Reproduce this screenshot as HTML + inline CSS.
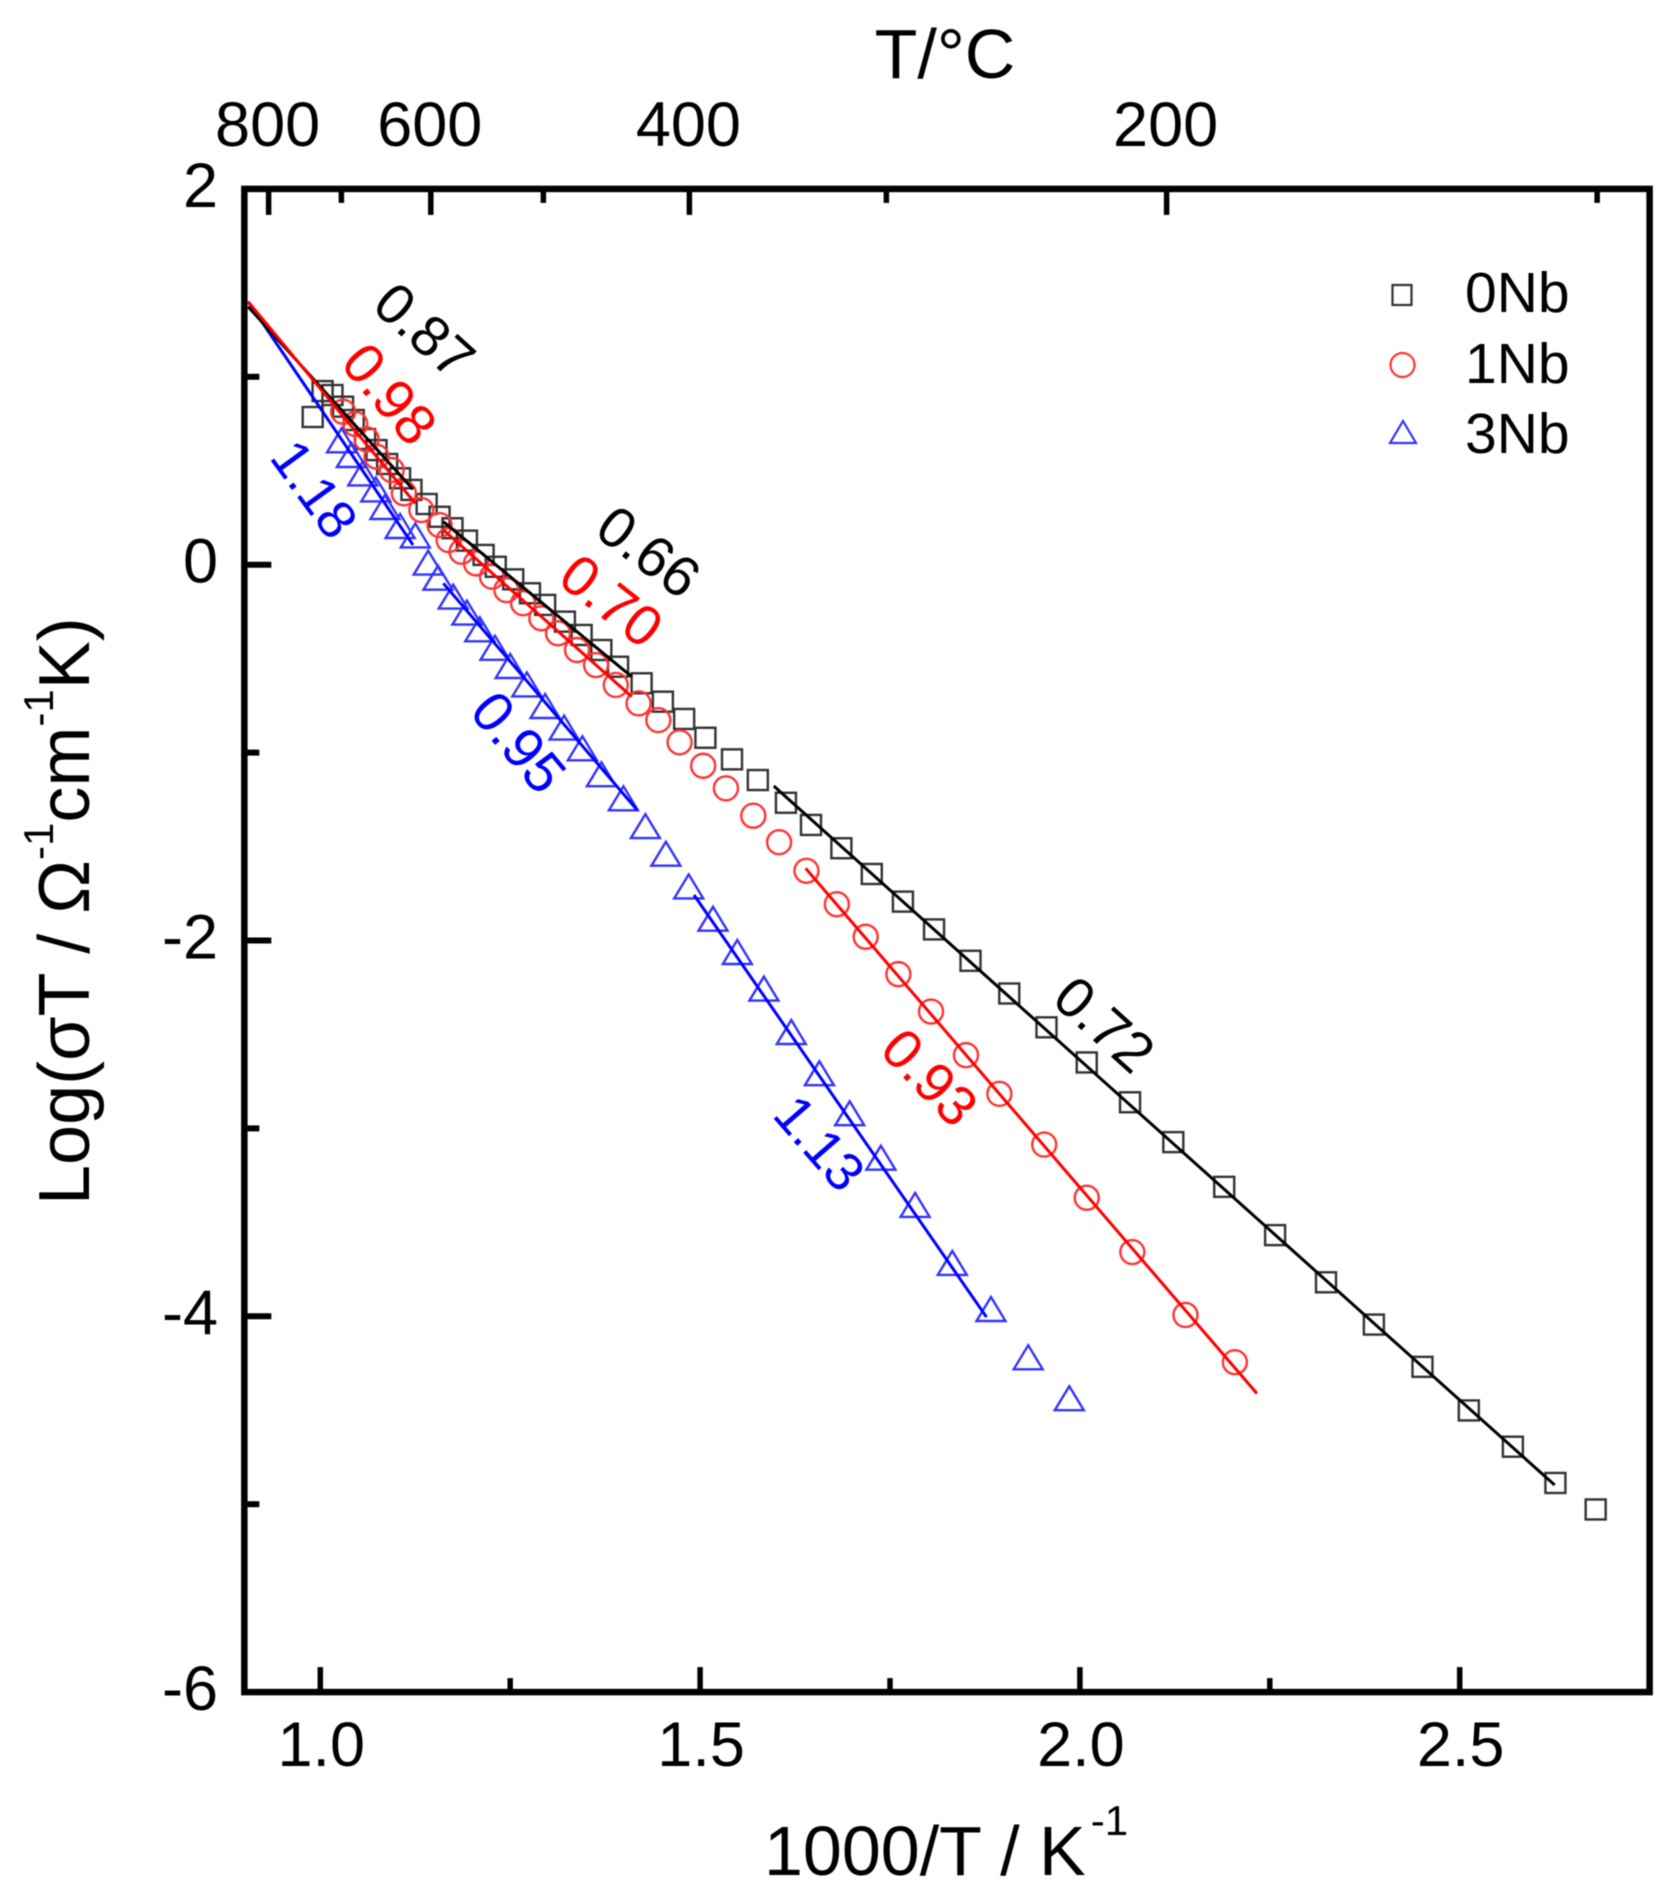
<!DOCTYPE html>
<html lang="en">
<head>
<meta charset="utf-8">
<title>Arrhenius plot of conductivity for 0Nb, 1Nb and 3Nb</title>
<style>
  html, body { margin: 0; padding: 0; background: #fff; }
  svg { display: block; filter: blur(0.6px); }
  text { font-family: "Liberation Sans", "DejaVu Sans", sans-serif; fill: #000; }
</style>
</head>
<body>
<svg id="chart" xmlns="http://www.w3.org/2000/svg" width="1680" height="1894" viewBox="0 0 1680 1894">
  <rect x="0" y="0" width="1680" height="1894" fill="#fff"/>
  <g id="plot-marks"></g>
  <g id="axes"></g>
  <text x="945" y="78" font-size="70" text-anchor="middle">T/°C</text>
  <text x="764" y="1875" font-size="70">1000/T / K<tspan font-size="42" dx="5" dy="-40">-1</tspan></text>
  <text transform="translate(89 1205) rotate(-90)" font-size="72">Log(σT / Ω<tspan font-size="42" dy="-36">-1</tspan><tspan dy="36">cm</tspan><tspan font-size="42" dy="-36">-1</tspan><tspan dy="36">K)</tspan></text>
  <g>
    <rect x="1392.5" y="285" width="19" height="20" fill="none" stroke="#333" stroke-width="2.2"/>
    <text x="1465" y="312" font-size="57">0Nb</text>
    <circle cx="1402.5" cy="365" r="12" fill="none" stroke="#f33" stroke-width="2.2"/>
    <text x="1465" y="383" font-size="57">1Nb</text>
    <polygon points="1403,421 1416,443 1390,443" fill="none" stroke="#33f" stroke-width="2.2"/>
    <text x="1465" y="453" font-size="57">3Nb</text>
  </g>
</svg>
<script>
// ---- chart data ----
const xTickLabels = ["1.0", "1.5", "2.0", "2.5"];
const xMajorTicks = [1.0, 1.5, 2.0, 2.5];
const xMinorTicks = [1.25, 1.75, 2.25];
const yMajorTicks = [2, 0, -2, -4, -6];
const yMinorTicks = [1, -1, -3, -5];
const topMajorCelsius = [800, 600, 400, 200];
const topMinorCelsius = [700, 500, 300, 100];

const x0Nb = [0.990,1.003,1.016,1.030,1.044,1.059,1.074,1.088,1.105,1.120,1.140,1.157,1.174,1.193,1.215,1.231,1.254,1.276,1.296,1.322,1.344,1.370,1.392,1.423,1.451,1.479,1.507,1.542,1.576,1.613,1.646,1.686,1.726,1.767,1.808,1.856,1.907,1.956,2.009,2.066,2.123,2.190,2.257,2.324,2.387,2.451,2.512,2.570,2.626,2.679];
const y0Nb = [0.786,0.924,0.903,0.841,0.770,0.669,0.610,0.536,0.460,0.398,0.323,0.255,0.194,0.128,0.052,-0.011,-0.078,-0.152,-0.214,-0.303,-0.374,-0.454,-0.543,-0.631,-0.729,-0.821,-0.921,-1.036,-1.146,-1.267,-1.385,-1.509,-1.646,-1.793,-1.941,-2.108,-2.282,-2.462,-2.649,-2.861,-3.073,-3.311,-3.568,-3.819,-4.044,-4.269,-4.501,-4.694,-4.887,-5.028];

const x1Nb = [1.030,1.046,1.061,1.074,1.094,1.110,1.133,1.157,1.169,1.186,1.205,1.226,1.245,1.267,1.291,1.313,1.338,1.363,1.389,1.419,1.445,1.473,1.504,1.534,1.570,1.604,1.640,1.680,1.718,1.761,1.804,1.850,1.894,1.953,2.009,2.069,2.139,2.204];
const y1Nb = [0.814,0.749,0.667,0.575,0.504,0.380,0.291,0.211,0.131,0.069,0.007,-0.064,-0.135,-0.205,-0.285,-0.365,-0.454,-0.534,-0.640,-0.738,-0.827,-0.945,-1.070,-1.190,-1.336,-1.477,-1.629,-1.807,-1.980,-2.179,-2.378,-2.610,-2.816,-3.086,-3.369,-3.658,-3.993,-4.244];

const x3Nb = [1.028,1.041,1.056,1.073,1.085,1.105,1.125,1.142,1.155,1.175,1.193,1.210,1.230,1.250,1.272,1.296,1.321,1.345,1.370,1.399,1.428,1.455,1.485,1.517,1.549,1.584,1.620,1.657,1.697,1.738,1.783,1.832,1.883,1.932,1.986];
const y3Nb = [0.662,0.584,0.486,0.401,0.307,0.206,0.156,0.011,-0.069,-0.170,-0.255,-0.344,-0.442,-0.539,-0.637,-0.752,-0.867,-0.977,-1.115,-1.243,-1.391,-1.538,-1.712,-1.884,-2.061,-2.256,-2.487,-2.706,-2.919,-3.156,-3.407,-3.716,-3.961,-4.218,-4.436];

// fit lines: [x1, x2], [y1, y2] in data units
const fit0NbHighX = [0.905, 1.122];
const fit0NbHighY = [1.373, 0.401];
const fit1NbHighX = [0.905, 1.125];
const fit1NbHighY = [1.400, 0.327];
const fit3NbHighX = [0.905, 1.122];
const fit3NbHighY = [1.400, 0.105];
const fit0NbMidX = [1.162, 1.410];
const fit0NbMidY = [0.229, -0.596];
const fit1NbMidX = [1.162, 1.410];
const fit1NbMidY = [0.185, -0.702];
const fit3NbMidX = [1.162, 1.417];
const fit3NbMidY = [-0.099, -1.305];
const fit0NbLowX = [1.597, 2.625];
const fit0NbLowY = [-1.178, -4.898];
const fit1NbLowX = [1.639, 2.233];
const fit1NbLowY = [-1.616, -4.411];
const fit3NbLowX = [1.492, 1.877];
const fit3NbLowY = [-1.758, -4.004];

// activation-energy annotations
const noteText = ["0.87", "0.98", "1.18", "0.66", "0.70", "0.95", "0.72", "0.93", "1.13"];
const noteX = [1.138, 1.092, 0.993, 1.433, 1.384, 1.262, 2.033, 1.803, 1.658];
const noteY = [1.249, 0.912, 0.405, 0.073, -0.188, -0.942, -2.443, -2.725, -3.075];
const noteAngle = [42, 50, 54, 37, 38, 50, 42, 46, 49];
const noteSize = [57, 57, 54, 57, 57, 57, 57, 56, 54];
const noteSeries = ["black", "red", "blue", "black", "red", "blue", "black", "red", "blue"];

// ---- scales ----
const xScale = v => 320.3 + (v - 1) * 759.6;
const yScale = v => 564.7 - v * 187.9;
const celsiusToX = c => xScale(1000 / (c + 273));

const SVG_NS = "http://www.w3.org/2000/svg";
const marks = document.getElementById("plot-marks");
const axes = document.getElementById("axes");

function make(parent, tag, attrs, text) {
  const el = document.createElementNS(SVG_NS, tag);
  Object.keys(attrs).forEach(k => el.setAttribute(k, attrs[k]));
  if (text !== undefined) el.textContent = text;
  parent.appendChild(el);
  return el;
}

// ---- markers ----
x0Nb.forEach((xv, i) => {
  const cx = xScale(xv), cy = yScale(y0Nb[i]);
  const el = make(marks, "rect", { x: cx - 10, y: cy - 10, width: 20, height: 20, fill: "none", stroke: "#333", "stroke-width": 2.4 });
  
  
});
x1Nb.forEach((xv, i) => {
  const el = make(marks, "circle", { cx: xScale(xv), cy: yScale(y1Nb[i]), r: 12, fill: "none", stroke: "#f33", "stroke-width": 2.4 });
  
  
});
x3Nb.forEach((xv, i) => {
  const cx = xScale(xv), cy = yScale(y3Nb[i]);
  const pts = [cx, cy - 12, cx + 14.5, cy + 12, cx - 14.5, cy + 12].map(n => n.toFixed(1));
  const el = make(marks, "polygon", { points: pts[0] + "," + pts[1] + " " + pts[2] + "," + pts[3] + " " + pts[4] + "," + pts[5], fill: "none", stroke: "#33f", "stroke-width": 2.4 });
  
  
});

// ---- fit lines ----
function fitLine(xs, ys, color) {
  return make(marks, "line", { x1: xScale(xs[0]), y1: yScale(ys[0]), x2: xScale(xs[1]), y2: yScale(ys[1]), stroke: color, "stroke-width": 3 });
}
let fit;
fit = fitLine(fit3NbHighX, fit3NbHighY, "#00f");


fit = fitLine(fit0NbHighX, fit0NbHighY, "#000");


fit = fitLine(fit1NbHighX, fit1NbHighY, "#f00");


fit = fitLine(fit0NbMidX, fit0NbMidY, "#000");


fit = fitLine(fit1NbMidX, fit1NbMidY, "#f00");


fit = fitLine(fit3NbMidX, fit3NbMidY, "#00f");


fit = fitLine(fit0NbLowX, fit0NbLowY, "#000");


fit = fitLine(fit1NbLowX, fit1NbLowY, "#f00");


fit = fitLine(fit3NbLowX, fit3NbLowY, "#00f");



// ---- rotated annotations ----
noteText.forEach((t, i) => {
  const cx = xScale(noteX[i]), cy = yScale(noteY[i]);
  const colour = noteSeries[i] === "black" ? "#000" : noteSeries[i] === "red" ? "#f00" : "#00f";
  const el = make(marks, "text", { transform: "translate(" + cx.toFixed(1) + " " + cy.toFixed(1) + ") rotate(" + noteAngle[i] + ")", "text-anchor": "middle", dy: "0.36em", "font-size": noteSize[i], style: "fill:" + colour }, t);
  
  
});

// ---- frame ----
const frame = make(axes, "rect", { x: xScale(0.9), y: yScale(2), width: xScale(2.75) - xScale(0.9), height: yScale(-6) - yScale(2), fill: "none", stroke: "#000", "stroke-width": 6.5 });



// ---- bottom axis ----
xMajorTicks.forEach((v, i) => {
  const t = make(axes, "line", { x1: xScale(v), x2: xScale(v), y1: yScale(-6), y2: yScale(-6) - 25, stroke: "#000", "stroke-width": 5.5 });
  
  
  const l = make(axes, "text", { x: xScale(v) + 1, y: 1766, "text-anchor": "middle", "font-size": 63 }, xTickLabels[i]);
  
  
});
xMinorTicks.forEach(v => {
  const t = make(axes, "line", { x1: xScale(v), x2: xScale(v), y1: yScale(-6), y2: yScale(-6) - 14, stroke: "#000", "stroke-width": 5.5 });
  
  
});

// ---- left axis ----
yMajorTicks.forEach(v => {
  if (v !== 2 && v !== -6) {
    const t = make(axes, "line", { x1: xScale(0.9), x2: xScale(0.9) + 27, y1: yScale(v), y2: yScale(v), stroke: "#000", "stroke-width": 6 });
    
    
  }
  const l = make(axes, "text", { x: 218, y: yScale(v) + 18, "text-anchor": "end", "font-size": 63 }, String(v));
  
  
});
yMinorTicks.forEach(v => {
  const t = make(axes, "line", { x1: xScale(0.9), x2: xScale(0.9) + 15, y1: yScale(v), y2: yScale(v), stroke: "#000", "stroke-width": 6 });
  
  
});

// ---- top axis (temperature) ----
topMajorCelsius.forEach(c => {
  const t = make(axes, "line", { x1: celsiusToX(c), x2: celsiusToX(c), y1: yScale(2), y2: yScale(2) + 26, stroke: "#000", "stroke-width": 5.5 });
  
  
  const l = make(axes, "text", { x: celsiusToX(c) - 1, y: 146, "text-anchor": "middle", "font-size": 63 }, String(c));
  
  
});
topMinorCelsius.forEach(c => {
  const t = make(axes, "line", { x1: celsiusToX(c), x2: celsiusToX(c), y1: yScale(2), y2: yScale(2) + 14, stroke: "#000", "stroke-width": 5.5 });
  
  
});
</script>
</body>
</html>
